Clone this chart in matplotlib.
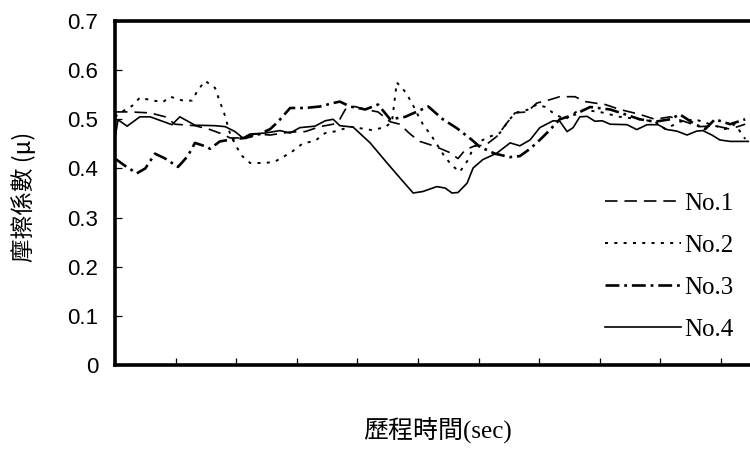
import matplotlib
matplotlib.use("Agg")
import matplotlib.pyplot as plt

# ---- data (time in arbitrary sec units, friction coefficient) ----
t1 = [0, 2.5, 5.8, 8.3, 9.9, 13.2, 15.7, 17.7, 19.0, 21.0, 23.1, 25.6, 28.9, 31.4, 33.8, 36.0,
      37.1, 38.0, 39.6, 41.3, 43.4, 45.4, 47.0, 48.7, 50.3, 52.8, 55.3, 56.6, 57.8, 59.4, 61.1,
      63.0, 64.7, 66.0, 68.0, 69.6, 71.8, 73.4, 75.9, 77.6, 79.2, 80.9, 83.3, 86.6, 89.1, 91.6,
      94.1, 96.5, 99.0, 101.5, 104.0]
mu1 = [0.515, 0.515, 0.513, 0.505, 0.490, 0.487, 0.479, 0.470, 0.462, 0.462, 0.470, 0.468,
       0.474, 0.475, 0.485, 0.490, 0.500, 0.520, 0.526, 0.520, 0.515, 0.495, 0.490, 0.470,
       0.455, 0.445, 0.432, 0.420, 0.438, 0.446, 0.447, 0.465, 0.493, 0.513, 0.515, 0.533,
       0.540, 0.546, 0.546, 0.536, 0.533, 0.530, 0.520, 0.510, 0.500, 0.505, 0.495, 0.485,
       0.487, 0.480, 0.490]

t2 = [0, 0.8, 2.8, 4.1, 6.3, 7.9, 9.1, 11.2, 12.7, 13.7, 14.9, 16.5, 17.3, 18.0, 19.0, 20.0,
      21.0, 22.3, 24.8, 26.4, 27.7, 29.2, 31.0, 33.0, 34.7, 36.6, 38.8, 42.4, 44.6, 45.7, 46.5,
      47.9, 49.0, 49.8, 50.8, 52.3, 54.5, 55.8, 56.9, 58.3, 59.1, 60.2, 61.9, 63.5, 64.7, 66.0,
      68.0, 69.6, 71.0, 72.6, 74.3, 76.7, 80.0, 83.3, 86.6, 89.1, 90.8, 93.2, 95.7, 98.2, 100.7,
      102.3, 104.0]
mu2 = [0.505, 0.513, 0.527, 0.544, 0.538, 0.535, 0.546, 0.538, 0.538, 0.560, 0.578, 0.564,
       0.536, 0.513, 0.470, 0.445, 0.425, 0.411, 0.411, 0.414, 0.423, 0.434, 0.451, 0.456,
       0.472, 0.476, 0.485, 0.478, 0.484, 0.495, 0.575, 0.556, 0.533, 0.513, 0.490, 0.465,
       0.422, 0.404, 0.393, 0.418, 0.442, 0.455, 0.465, 0.472, 0.493, 0.513, 0.519, 0.530,
       0.525, 0.510, 0.500, 0.520, 0.515, 0.505, 0.500, 0.495, 0.480, 0.495, 0.500, 0.490,
       0.480, 0.490, 0.460]

t3 = [0, 1.7, 3.6, 5.0, 6.6, 8.3, 10.4, 12.0, 13.2, 14.9, 15.7, 17.3, 19.8, 21.5, 23.9, 25.6,
      26.9, 28.9, 31.4, 33.8, 36.0, 37.1, 38.8, 41.3, 43.4, 45.4, 47.9, 51.7, 54.1, 56.4, 58.9,
      60.2, 62.7, 65.2, 66.8, 68.5, 70.1, 71.5, 73.4, 75.9, 78.4, 81.7, 84.2, 86.6, 89.1, 91.6,
      93.2, 95.7, 97.4, 99.0, 101.5, 104.0]
mu3 = [0.420, 0.405, 0.390, 0.400, 0.430, 0.420, 0.403, 0.425, 0.452, 0.445, 0.440, 0.455,
       0.460, 0.462, 0.470, 0.480, 0.495, 0.523, 0.523, 0.526, 0.533, 0.536, 0.526, 0.520,
       0.530, 0.500, 0.505, 0.526, 0.500, 0.482, 0.458, 0.444, 0.430, 0.423, 0.425, 0.440,
       0.458, 0.475, 0.500, 0.510, 0.525, 0.520, 0.510, 0.500, 0.495, 0.500, 0.510, 0.490,
       0.480, 0.500, 0.490, 0.500]

t4 = [0, 0.5, 2.0, 4.1, 5.8, 9.4, 10.7, 13.2, 16.5, 18.2, 19.8, 21.1, 22.3, 24.8, 27.2, 28.9,
      30.5, 33.0, 34.7, 36.0, 37.1, 39.3, 42.1, 44.9, 47.0, 49.2, 50.8, 53.1, 54.5, 55.6, 56.6,
      58.1, 59.1, 60.7, 63.0, 65.2, 66.8, 68.5, 70.1, 72.3, 73.4, 74.6, 75.6, 76.7, 77.9, 79.2,
      80.4, 81.7, 84.5, 86.1, 87.8, 89.6, 91.1, 92.7, 94.4, 96.0, 97.0, 98.5, 99.8, 101.5, 104.5]
mu4 = [0.462, 0.499, 0.486, 0.505, 0.505, 0.489, 0.505, 0.488, 0.487, 0.485, 0.475, 0.462,
       0.470, 0.472, 0.477, 0.472, 0.483, 0.486, 0.497, 0.500, 0.487, 0.484, 0.452, 0.411,
       0.381, 0.350, 0.353, 0.363, 0.360, 0.350, 0.351, 0.370, 0.401, 0.418, 0.431, 0.452,
       0.446, 0.458, 0.483, 0.497, 0.496, 0.475, 0.483, 0.505, 0.506, 0.496, 0.497, 0.490,
       0.489, 0.479, 0.489, 0.489, 0.479, 0.476, 0.468, 0.476, 0.477, 0.468, 0.458, 0.455,
       0.455]

labels = ["No.1", "No.2", "No.3", "No.4"]
yticks = [0, 0.1, 0.2, 0.3, 0.4, 0.5, 0.6, 0.7]
ytick_labels = ["0", "0.1", "0.2", "0.3", "0.4", "0.5", "0.6", "0.7"]
xticks = [0, 10, 20, 30, 40, 50, 60, 70, 80, 90, 100, 110]

plt.rcParams["lines.scale_dashes"] = False

fig = plt.figure(figsize=(7.5, 4.76), dpi=100)
fig.patch.set_facecolor("white")
ax = fig.add_axes([115 / 750, 1 - 365 / 476, 110 * 6.06 / 750, (365 - 21) / 476])

ax.plot(t1, mu1, color="black", lw=1.2, dashes=(9, 5), label=labels[0])
ax.plot(t2, mu2, color="black", lw=1.4, dashes=(2.2, 4.5), label=labels[1])
ax.plot(t3, mu3, color="black", lw=1.9, dashes=(10, 3.5, 2, 3.5), label=labels[2])
ax.plot(t4, mu4, color="black", lw=1.2, label=labels[3])

ax.set_xlim(0, 110)
ax.set_ylim(0, 0.7)
ax.set_xticks(xticks)
ax.set_xticklabels([])
ax.set_yticks(yticks)
ax.set_yticklabels(ytick_labels, fontfamily="Liberation Sans", fontsize=16)
ax.tick_params(axis="both", direction="in", length=5, width=0.9, color="black")
ax.tick_params(axis="y", pad=12)

for side in ["top", "left", "bottom"]:
    ax.spines[side].set_linewidth(2.6)
    ax.spines[side].set_color("black")
ax.spines["right"].set_visible(False)

fig.text(24 / 750, 1 - 197 / 476, "摩擦係數 (μ)", rotation=90, ha="center", va="center",
         fontsize=17, family=["Noto Sans CJK TC", "DejaVu Sans"])
fig.text(437 / 750, 1 - 430 / 476, "歷程時間(sec)", ha="center", va="center",
         fontsize=18, family=["Liberation Serif", "Noto Sans CJK TC"])

leg = fig.legend(loc="upper left", bbox_to_anchor=(605 / 750, 1 - 192 / 476),
                 frameon=False, prop={"family": "Liberation Serif", "size": 18},
                 handlelength=3.05, handletextpad=0.1, labelspacing=0.78,
                 borderpad=0, borderaxespad=0)

fig.savefig("out.png", dpi=100, facecolor="white")
